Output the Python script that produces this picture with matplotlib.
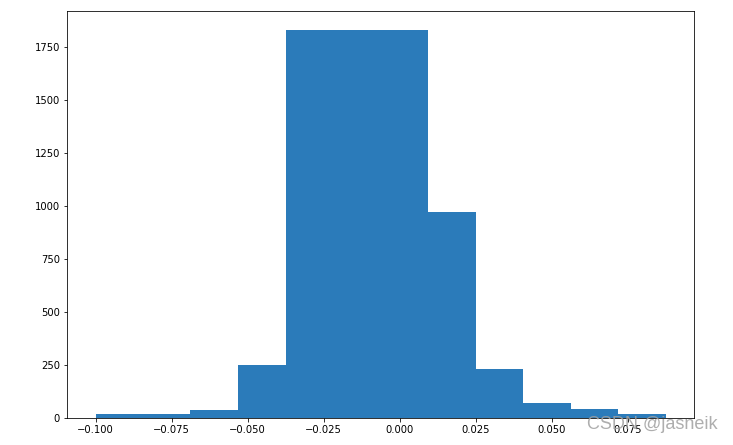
import numpy as np
import matplotlib
matplotlib.use('Agg')
import matplotlib.pyplot as plt

# histogram: 12 equal bins starting at -0.100
bin_start = -0.100
bin_width = 1 / 64
counts = [17, 17, 36, 248, 1828, 1828, 1828, 970, 230, 72, 41, 17]

edges = bin_start + bin_width * np.arange(len(counts) + 1)
centers = (edges[:-1] + edges[1:]) / 2

fig = plt.figure(figsize=(733 / 72, 445 / 72), dpi=72)
ax = fig.add_axes([67 / 733, 1 - 418 / 445, (694 - 67) / 733, (418 - 11) / 445])

ax.hist(centers, bins=edges, weights=counts, color='#2b7bba')
ax.set_xticks([-0.100, -0.075, -0.050, -0.025, 0.000, 0.025, 0.050, 0.075])
ax.set_yticks([0, 250, 500, 750, 1000, 1250, 1500, 1750])
ax.tick_params(labelsize=10)

# watermark, sits over the last tick label as in the original
fig.text(0.979, 0.045, 'CSDN @jasneik', ha='right', va='center',
         fontsize=18, family='Liberation Sans', color='#a0a0a0', alpha=0.85)

fig.savefig('out.png', dpi=72)
